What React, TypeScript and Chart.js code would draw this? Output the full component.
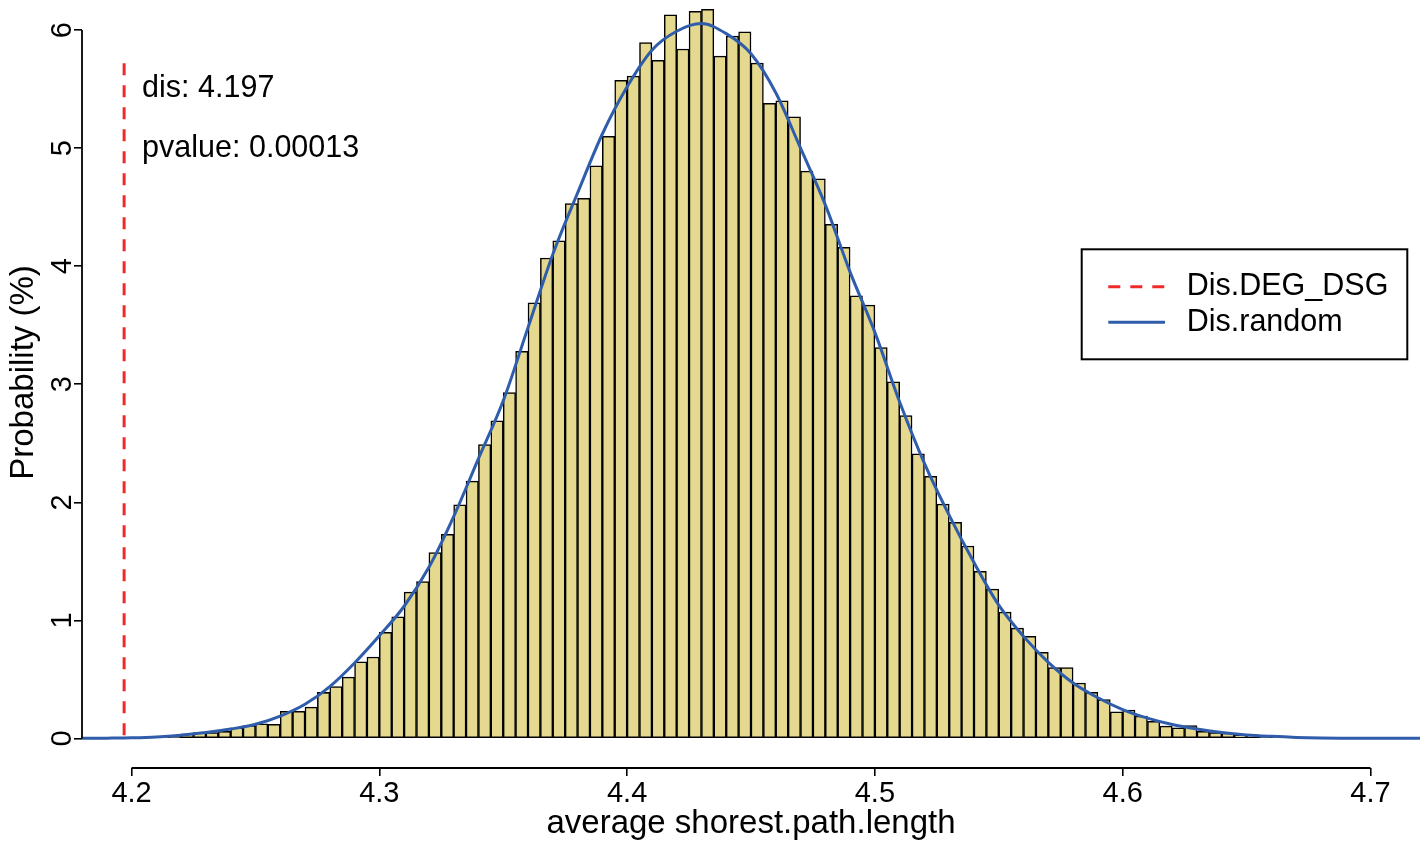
import { useEffect, useRef } from 'react';
import { Chart, registerables } from 'chart.js';

Chart.register(...registerables);

// ---- data ----
const binStart = 4.195; // left edge of first histogram bin
const binWidth = 0.005;
const binHeights = [
  0.003, 0.005, 0.008, 0.012, 0.018, 0.04, 0.05, 0.05, 0.06, 0.09,
  0.11, 0.125, 0.12, 0.23, 0.23, 0.265, 0.39, 0.44, 0.52, 0.65,
  0.69, 0.9, 1.03, 1.24, 1.33, 1.575, 1.73, 1.98, 2.18, 2.49,
  2.69, 2.93, 3.28, 3.69, 4.07, 4.215, 4.53, 4.575, 4.85, 5.1,
  5.575, 5.61, 5.895, 5.745, 6.13, 5.84, 6.16, 6.175, 5.78, 5.95,
  5.985, 5.72, 5.38, 5.4, 5.265, 4.805, 4.74, 4.355, 4.16, 3.75,
  3.67, 3.31, 3.02, 2.735, 2.41, 2.22, 1.985, 1.83, 1.63, 1.415,
  1.265, 1.07, 0.935, 0.865, 0.73, 0.6, 0.6, 0.47, 0.39, 0.33,
  0.225, 0.24, 0.19, 0.145, 0.105, 0.09, 0.11, 0.06, 0.05, 0.045,
  0.03, 0.03, 0.02, 0.015, 0.01, 0.005, 0.003,
];

const curveX = [
  4.18, 4.19, 4.2, 4.21, 4.22, 4.23, 4.24, 4.25, 4.26, 4.27,
  4.28, 4.29, 4.3, 4.31, 4.32, 4.33, 4.34, 4.35, 4.36, 4.37,
  4.38, 4.39, 4.4, 4.41, 4.42, 4.43, 4.44, 4.45, 4.46, 4.47,
  4.48, 4.49, 4.5, 4.51, 4.52, 4.53, 4.54, 4.55, 4.56, 4.57,
  4.58, 4.59, 4.6, 4.61, 4.62, 4.63, 4.64, 4.65, 4.66, 4.67,
  4.68, 4.69, 4.7, 4.71, 4.72,
];
const curveY = [
  0.001, 0.003, 0.006, 0.013, 0.028, 0.05, 0.08, 0.12, 0.19, 0.29,
  0.44, 0.64, 0.87, 1.12, 1.45, 1.88, 2.37, 2.86, 3.48, 4.1,
  4.62, 5.12, 5.52, 5.83, 5.99, 6.055, 5.97, 5.8, 5.47, 5.0,
  4.52, 3.95, 3.44, 2.85, 2.33, 1.89, 1.49, 1.13, 0.865, 0.645,
  0.47, 0.345, 0.245, 0.172, 0.118, 0.08, 0.05, 0.03, 0.018, 0.009,
  0.004, 0.002, 0.001, 0.001, 0.001,
];

const xTicks = [4.2, 4.3, 4.4, 4.5, 4.6, 4.7];
const yTicks = [0, 1, 2, 3, 4, 5, 6];
const observedDis = 4.197;
const observedLineTop = 5.72;
const pvalueText = '0.00013';
const legendLabels = ['Dis.DEG_DSG', 'Dis.random'];
const xTitle = 'average shorest.path.length';
const yTitle = 'Probability (%)';

// ---- styles ----
const FONT = '"Liberation Sans", Arial, Helvetica, sans-serif';
const RED = '#f02a2a';
const BLUE = '#2f5dab';
const FILL = '#e4d98e';

export default function App() {
  const ref = useRef<HTMLCanvasElement>(null);

  useEffect(() => {
    const canvas = ref.current;
    if (!canvas) return;

    const bars = binHeights.map((h, i) => ({ x: binStart + binWidth * (i + 0.5), y: h }));
    const curve = curveX.map((x, i) => ({ x, y: curveY[i] }));

    const textPlugin = {
      id: 'rstyle',
      afterDraw(chart: any) {
        const ctx = chart.ctx as CanvasRenderingContext2D;
        const xs = chart.scales.x;
        const ys = chart.scales.y;
        const area = chart.chartArea;
        ctx.save();
        // axis lines (R style: from first to last tick)
        ctx.strokeStyle = '#000';
        ctx.lineWidth = 1.8;
        ctx.beginPath();
        ctx.moveTo(xs.getPixelForValue(xTicks[0]), area.bottom);
        ctx.lineTo(xs.getPixelForValue(xTicks[xTicks.length - 1]), area.bottom);
        ctx.stroke();
        ctx.beginPath();
        ctx.moveTo(area.left, ys.getPixelForValue(yTicks[0]));
        ctx.lineTo(area.left, ys.getPixelForValue(yTicks[yTicks.length - 1]));
        ctx.stroke();

        ctx.fillStyle = '#000';
        ctx.font = `29px ${FONT}`;
        ctx.textAlign = 'center';
        ctx.textBaseline = 'alphabetic';
        xTicks.forEach((v) => {
          ctx.fillText(v.toFixed(1), xs.getPixelForValue(v), area.bottom + 33.5);
        });
        yTicks.forEach((v) => {
          ctx.save();
          ctx.translate(area.left - 11.3, ys.getPixelForValue(v));
          ctx.rotate(-Math.PI / 2);
          ctx.fillText(String(v), 0, 0);
          ctx.restore();
        });

        // axis titles
        ctx.font = `33px ${FONT}`;
        ctx.fillText(xTitle, (area.left + area.right) / 2, area.bottom + 65);
        ctx.save();
        ctx.translate(33, ys.getPixelForValue(3.1));
        ctx.rotate(-Math.PI / 2);
        ctx.fillText(yTitle, 0, 0);
        ctx.restore();

        // annotations
        const rx = xs.getPixelForValue(observedDis);
        ctx.font = `30.5px ${FONT}`;
        ctx.textAlign = 'left';
        ctx.fillText(`dis: ${observedDis}`, rx + 18, 97);
        ctx.fillText(`pvalue: ${pvalueText}`, rx + 18, 156.5);

        // legend
        const bx = 1081.7, by = 249.3, bw = 325.6, bh = 110;
        ctx.lineWidth = 2;
        ctx.strokeStyle = '#000';
        ctx.strokeRect(bx, by, bw, bh);
        ctx.lineWidth = 3;
        ctx.strokeStyle = RED;
        ctx.setLineDash([12, 10]);
        ctx.beginPath();
        ctx.moveTo(bx + 26.6, by + 37.4);
        ctx.lineTo(bx + 83.3, by + 37.4);
        ctx.stroke();
        ctx.setLineDash([]);
        ctx.strokeStyle = BLUE;
        ctx.beginPath();
        ctx.moveTo(bx + 26.6, by + 73);
        ctx.lineTo(bx + 83.3, by + 73);
        ctx.stroke();
        ctx.fillStyle = '#000';
        ctx.font = `30.5px ${FONT}`;
        ctx.fillText(legendLabels[0], bx + 105, by + 46);
        ctx.fillText(legendLabels[1], bx + 105, by + 81.7);
        ctx.restore();
      },
    };

    const tickGrid = {
      display: true,
      drawOnChartArea: false,
      drawTicks: true,
      tickLength: 8,
      color: '#000',
      lineWidth: 1.6,
      offset: false,
    };

    const chart = new Chart(canvas, {
      type: 'bar',
      data: {
        datasets: [
          {
            type: 'line',
            label: legendLabels[0],
            data: [
              { x: observedDis, y: observedLineTop },
              { x: observedDis, y: 0 },
            ],
            borderColor: RED,
            borderWidth: 3,
            borderDash: [12, 10],
            pointRadius: 0,
            fill: false,
            order: 1,
          } as any,
          {
            type: 'line',
            label: legendLabels[1],
            data: curve,
            borderColor: BLUE,
            borderWidth: 3,
            pointRadius: 0,
            fill: false,
            cubicInterpolationMode: 'monotone',
            order: 2,
          } as any,
          {
            type: 'bar',
            label: 'histogram',
            data: bars,
            backgroundColor: FILL,
            borderColor: '#000',
            borderWidth: 1.5,
            borderSkipped: false,
            barPercentage: 1,
            categoryPercentage: 1,
            order: 3,
          } as any,
        ],
      },
      options: {
        animation: false,
        responsive: false,
        maintainAspectRatio: false,
        devicePixelRatio: 1,
        layout: { padding: { left: 0, right: 6, top: 0, bottom: 0 } },
        plugins: { legend: { display: false }, tooltip: { enabled: false } },
        scales: {
          x: {
            type: 'linear',
            min: 4.18,
            max: 4.72,
            offset: false,
            ticks: { display: false },
            grid: tickGrid,
            border: { display: false },
            afterBuildTicks: (s: any) => {
              s.ticks = xTicks.map((v) => ({ value: v }));
            },
            afterFit: (s: any) => {
              s.height = 78;
            },
          },
          y: {
            type: 'linear',
            min: -0.25,
            max: 6.255,
            ticks: { display: false },
            grid: tickGrid,
            border: { display: false },
            afterBuildTicks: (s: any) => {
              s.ticks = yTicks.map((v) => ({ value: v }));
            },
            afterFit: (s: any) => {
              s.width = 82;
            },
          },
        },
      } as any,
      plugins: [textPlugin],
    });

    return () => chart.destroy();
  }, []);

  return (
    <div style={{ position: 'fixed', left: 0, top: 0, width: 1426, height: 846, background: '#fff' }}>
      <canvas ref={ref} width={1426} height={846} style={{ display: 'block', width: 1426, height: 846 }} />
    </div>
  );
}
